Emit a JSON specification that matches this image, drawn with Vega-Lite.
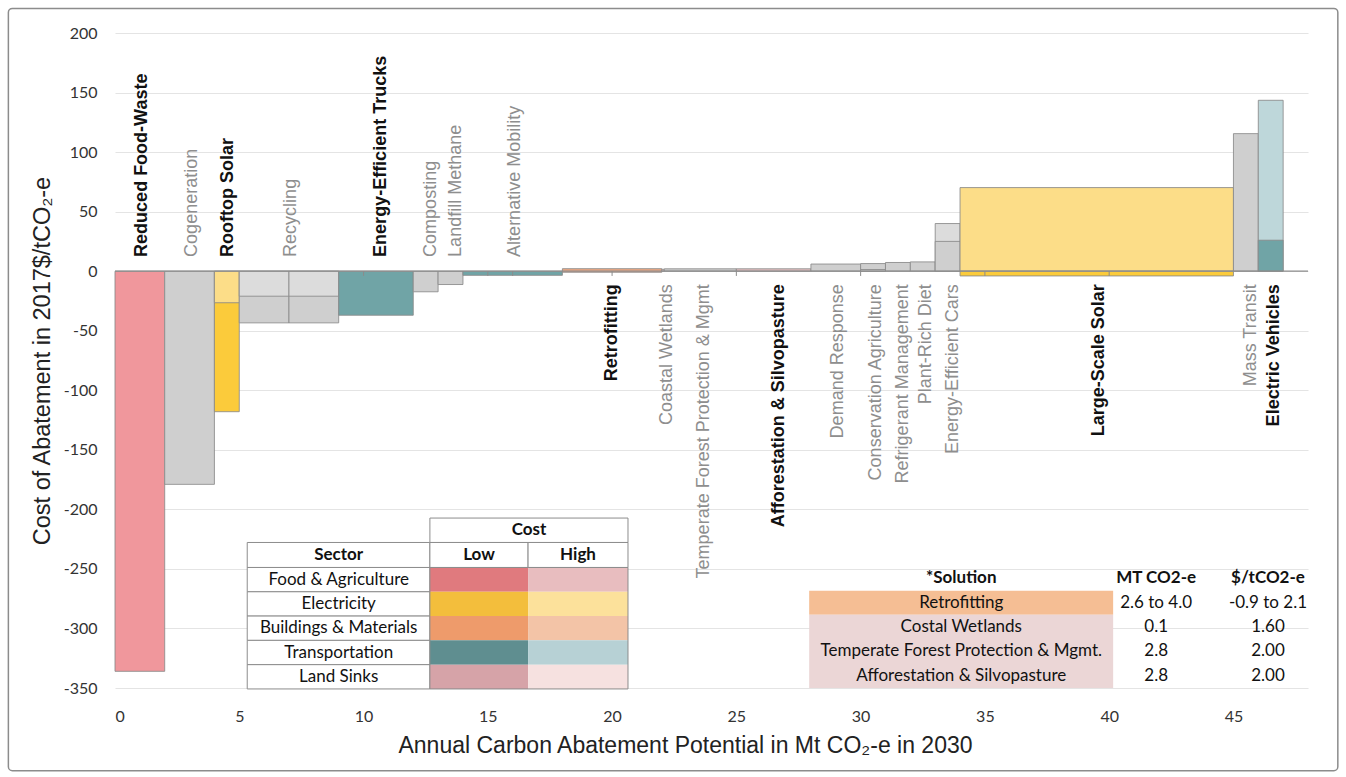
{
  "$schema": "https://vega.github.io/schema/vega-lite/v6.json",
  "width": 1193,
  "height": 655,
  "autosize": {"type": "none"},
  "padding": {"left": 115, "top": 33, "right": 38, "bottom": 89},
  "background": "white",
  "config": {"view": {"stroke": null}},
  "datasets": {
    "bars": [
      {"name": "Reduced Food-Waste", "x": 0, "x2": 2, "y": 0, "y2": -336, "c": "b_food"},
      {"name": "Cogeneration", "x": 2, "x2": 4, "y": 0, "y2": -179, "c": "b_gray"},
      {"name": "Rooftop Solar low", "x": 4, "x2": 5, "y": 0, "y2": -118, "c": "b_elec_low"},
      {"name": "Rooftop Solar high", "x": 4, "x2": 5, "y": 0, "y2": -26.5, "c": "b_elec_high"},
      {"name": "Recycling a", "x": 5, "x2": 7, "y": 0, "y2": -43.4, "c": "b_gray"},
      {"name": "Recycling b", "x": 7, "x2": 9, "y": 0, "y2": -43.4, "c": "b_gray"},
      {"name": "Recycling a high", "x": 5, "x2": 7, "y": 0, "y2": -21, "c": "b_gray_lt"},
      {"name": "Recycling b high", "x": 7, "x2": 9, "y": 0, "y2": -21, "c": "b_gray_lt"},
      {"name": "Energy-Efficient Trucks", "x": 9, "x2": 12, "y": 0, "y2": -37, "c": "b_trans_low"},
      {"name": "Composting", "x": 12, "x2": 13, "y": 0, "y2": -17.3, "c": "b_gray"},
      {"name": "Landfill Methane", "x": 13, "x2": 14, "y": 0, "y2": -11.2, "c": "b_gray"},
      {"name": "Alternative Mobility", "x": 14, "x2": 18, "y": 0, "y2": -3.5, "c": "b_trans_low"},
      {"name": "Retrofitting", "x": 18, "x2": 22, "y": -0.9, "y2": 2.1, "c": "b_bld"},
      {"name": "Coastal Wetlands", "x": 22, "x2": 22.1, "y": 0, "y2": 1.6, "c": "b_land"},
      {"name": "Temperate Forest Protection & Mgmt", "x": 22.1, "x2": 25, "y": 0, "y2": 2, "c": "b_gray"},
      {"name": "Afforestation & Silvopasture", "x": 25, "x2": 28, "y": 0, "y2": 2, "c": "b_land"},
      {"name": "Demand Response", "x": 28, "x2": 30, "y": 0, "y2": 6, "c": "b_gray"},
      {"name": "Conservation Agriculture", "x": 30, "x2": 31, "y": 0, "y2": 6.4, "c": "b_gray"},
      {"name": "Conservation Agriculture low", "x": 30, "x2": 31, "y": 0, "y2": 1.4, "c": "b_gray"},
      {"name": "Refrigerant Management", "x": 31, "x2": 32, "y": 0, "y2": 7.3, "c": "b_gray"},
      {"name": "Plant-Rich Diet", "x": 32, "x2": 33, "y": 0, "y2": 7.8, "c": "b_gray"},
      {"name": "Energy-Efficient Cars high", "x": 33, "x2": 34, "y": 0, "y2": 40, "c": "b_gray_lt"},
      {"name": "Energy-Efficient Cars low", "x": 33, "x2": 34, "y": 0, "y2": 25, "c": "b_gray"},
      {"name": "Large-Scale Solar high", "x": 34, "x2": 45, "y": 0, "y2": 70.2, "c": "b_elec_high"},
      {"name": "Large-Scale Solar low", "x": 34, "x2": 45, "y": 0, "y2": -4, "c": "b_elec_low"},
      {"name": "Mass Transit", "x": 45, "x2": 46, "y": 0, "y2": 115.5, "c": "b_gray"},
      {"name": "Electric Vehicles high", "x": 46, "x2": 47, "y": 0, "y2": 143.5, "c": "b_trans_high"},
      {"name": "Electric Vehicles low", "x": 46, "x2": 47, "y": 0, "y2": 26, "c": "b_trans_low"}
    ],
    "labels": [
      {"t": "Reduced Food-Waste", "x": 1.1, "y": 12, "side": "neg", "bold": true},
      {"t": "Cogeneration", "x": 3.1, "y": 12, "side": "neg", "bold": false},
      {"t": "Rooftop Solar", "x": 4.55, "y": 12, "side": "neg", "bold": true},
      {"t": "Recycling", "x": 7.1, "y": 12, "side": "neg", "bold": false},
      {"t": "Energy-Efficient Trucks", "x": 10.7, "y": 12, "side": "neg", "bold": true},
      {"t": "Composting", "x": 12.7, "y": 12, "side": "neg", "bold": false},
      {"t": "Landfill Methane", "x": 13.7, "y": 12, "side": "neg", "bold": false},
      {"t": "Alternative Mobility", "x": 16.1, "y": 12, "side": "neg", "bold": false},
      {"t": "Retrofitting", "x": 20.0, "y": -11, "side": "pos", "bold": true},
      {"t": "Coastal Wetlands", "x": 22.2, "y": -11, "side": "pos", "bold": false},
      {"t": "Temperate Forest Protection & Mgmt", "x": 23.7, "y": -11, "side": "pos", "bold": false},
      {"t": "Afforestation & Silvopasture", "x": 26.7, "y": -11, "side": "pos", "bold": true},
      {"t": "Demand Response", "x": 29.1, "y": -11, "side": "pos", "bold": false},
      {"t": "Conservation Agriculture", "x": 30.6, "y": -11, "side": "pos", "bold": false},
      {"t": "Refrigerant Management", "x": 31.7, "y": -11, "side": "pos", "bold": false},
      {"t": "Plant-Rich Diet", "x": 32.65, "y": -11, "side": "pos", "bold": false},
      {"t": "Energy-Efficient Cars", "x": 33.7, "y": -11, "side": "pos", "bold": false},
      {"t": "Large-Scale Solar", "x": 39.6, "y": -11, "side": "pos", "bold": true},
      {"t": "Mass Transit", "x": 45.7, "y": -11, "side": "pos", "bold": false},
      {"t": "Electric Vehicles", "x": 46.65, "y": -11, "side": "pos", "bold": true}
    ],
    "whiteCells": [
      {"x": 12.67, "x2": 20.64, "y": -207.3, "y2": -227.8},
      {"x": 5.32, "x2": 12.67, "y": -227.8, "y2": -248.8},
      {"x": 12.67, "x2": 16.62, "y": -227.8, "y2": -248.8},
      {"x": 16.62, "x2": 20.64, "y": -227.8, "y2": -248.8},
      {"x": 5.32, "x2": 12.67, "y": -248.8, "y2": -269.2},
      {"x": 5.32, "x2": 12.67, "y": -269.2, "y2": -289.6},
      {"x": 5.32, "x2": 12.67, "y": -289.6, "y2": -310.0},
      {"x": 5.32, "x2": 12.67, "y": -310.0, "y2": -330.4},
      {"x": 5.32, "x2": 12.67, "y": -330.4, "y2": -350.8}
    ],
    "colorCells": [
      {"x": 12.67, "x2": 16.62, "y": -248.8, "y2": -269.2, "c": "food_low"},
      {"x": 16.62, "x2": 20.64, "y": -248.8, "y2": -269.2, "c": "food_high"},
      {"x": 12.67, "x2": 16.62, "y": -269.2, "y2": -289.6, "c": "elec_low"},
      {"x": 16.62, "x2": 20.64, "y": -269.2, "y2": -289.6, "c": "elec_high"},
      {"x": 12.67, "x2": 16.62, "y": -289.6, "y2": -310.0, "c": "bld_low"},
      {"x": 16.62, "x2": 20.64, "y": -289.6, "y2": -310.0, "c": "bld_high"},
      {"x": 12.67, "x2": 16.62, "y": -310.0, "y2": -330.4, "c": "trans_low"},
      {"x": 16.62, "x2": 20.64, "y": -310.0, "y2": -330.4, "c": "trans_high"},
      {"x": 12.67, "x2": 16.62, "y": -330.4, "y2": -350.8, "c": "land_low"},
      {"x": 16.62, "x2": 20.64, "y": -330.4, "y2": -350.8, "c": "land_high"},
      {"x": 27.93, "x2": 40.16, "y": -268.3, "y2": -288.5, "c": "sol_orange"},
      {"x": 27.93, "x2": 40.16, "y": -288.5, "y2": -350.0, "c": "sol_pink"}
    ],
    "outline": [
      {"x": 12.67, "x2": 20.64, "y": -248.8, "y2": -350.8}
    ],
    "frame": [
      {"x": -4.29, "x2": 49.2, "y": 220.6, "y2": -419.4}
    ],
    "tableBold": [
      {"t": "Cost", "x": 16.655, "y": -217.5},
      {"t": "Sector", "x": 9.0, "y": -238.3},
      {"t": "Low", "x": 14.645, "y": -238.3},
      {"t": "High", "x": 18.63, "y": -238.3},
      {"t": "*Solution", "x": 34.05, "y": -257.4},
      {"t": "MT CO2-e", "x": 41.89, "y": -257.4},
      {"t": "$/tCO2-e", "x": 46.39, "y": -257.4}
    ],
    "tableText": [
      {"t": "Food & Agriculture", "x": 9.0, "y": -259.0},
      {"t": "Electricity", "x": 9.0, "y": -279.4},
      {"t": "Buildings & Materials", "x": 9.0, "y": -299.8},
      {"t": "Transportation", "x": 9.0, "y": -320.2},
      {"t": "Land Sinks", "x": 9.0, "y": -340.6},
      {"t": "Retrofitting", "x": 34.05, "y": -278.4},
      {"t": "Costal Wetlands", "x": 34.05, "y": -298.7},
      {"t": "Temperate Forest Protection & Mgmt.", "x": 34.05, "y": -319.2},
      {"t": "Afforestation & Silvopasture", "x": 34.05, "y": -339.7},
      {"t": "2.6 to 4.0", "x": 41.89, "y": -278.4},
      {"t": "0.1", "x": 41.89, "y": -298.7},
      {"t": "2.8", "x": 41.89, "y": -319.2},
      {"t": "2.8", "x": 41.89, "y": -339.7},
      {"t": "-0.9 to 2.1", "x": 46.39, "y": -278.4},
      {"t": "1.60", "x": 46.39, "y": -298.7},
      {"t": "2.00", "x": 46.39, "y": -319.2},
      {"t": "2.00", "x": 46.39, "y": -339.7}
    ],
    "axisLine": [
      {"x": 0, "x2": 48, "y": 0}
    ],
    "axisTicks": [
      {"x": 10, "y": 0, "y2": -4}, {"x": 15, "y": 0, "y2": -4}, {"x": 16, "y": 0, "y2": -4},
      {"x": 20, "y": 0, "y2": -4}, {"x": 25, "y": 0, "y2": -4}, {"x": 30, "y": 0, "y2": -4},
      {"x": 35, "y": 0, "y2": -4}, {"x": 40, "y": 0, "y2": -4}
    ]
  },
  "encoding": {
    "x": {
      "field": "x", "type": "quantitative",
      "scale": {"domain": [0, 48], "nice": false, "zero": false},
      "axis": {
        "values": [0, 5, 10, 15, 20, 25, 30, 35, 40, 45],
        "grid": false, "domain": false, "ticks": false,
        "labelPadding": 20, "labelFont": "Lato", "labelFontSize": 16, "labelColor": "#333333",
        "title": "Annual Carbon Abatement Potential in Mt CO₂-e in 2030",
        "titleFont": "Liberation Sans", "titleFontSize": 23, "titleFontWeight": "normal",
        "titleColor": "#222222", "titlePadding": 10, "titleX": 570
      }
    },
    "y": {
      "field": "y", "type": "quantitative",
      "scale": {"domain": [-350, 200], "nice": false, "zero": false},
      "axis": {
        "values": [-350, -300, -250, -200, -150, -100, -50, 0, 50, 100, 150, 200],
        "labelExpr": "'' + datum.value",
        "grid": true, "gridColor": "#E4E4E4", "gridWidth": 1.2,
        "domain": false, "ticks": false,
        "labelPadding": 18, "labelFont": "Lato", "labelFontSize": 16, "labelColor": "#333333",
        "title": "Cost of Abatement in 2017$/tCO₂-e",
        "titleFont": "Liberation Sans", "titleFontSize": 23.5, "titleFontWeight": "normal",
        "titleColor": "#222222", "titlePadding": 9
      }
    }
  },
  "layer": [
    {
      "data": {"name": "frame"},
      "mark": {"type": "rect", "fill": null, "fillOpacity": 0, "stroke": "#8C8C8C", "strokeWidth": 1.5, "cornerRadius": 4},
      "encoding": {"x2": {"field": "x2"}, "y2": {"field": "y2"}}
    },
    {
      "data": {"name": "bars"},
      "mark": {"type": "rect", "stroke": "#8A8A8A", "strokeWidth": 1, "strokeOpacity": 0.85},
      "encoding": {
        "x2": {"field": "x2"}, "y2": {"field": "y2"},
        "color": {
          "field": "c", "type": "nominal", "legend": null,
          "scale": {
            "domain": ["b_food", "b_gray", "b_gray_lt", "b_elec_low", "b_elec_high", "b_trans_low", "b_trans_high", "b_bld", "b_land", "food_low", "food_high", "elec_low", "elec_high", "bld_low", "bld_high", "trans_low", "trans_high", "land_low", "land_high", "sol_orange", "sol_pink"],
            "range": ["#F0979C", "#CFCFCF", "#DCDCDC", "#FBCB3B", "#FCDD88", "#70A4A6", "#BED7DA", "#EFA882", "#E4BFC0", "#E07A7E", "#E8BDBF", "#F3BE3C", "#FCE19B", "#EE9B6B", "#F3C4A7", "#5F8E90", "#B7D1D5", "#D6A3A8", "#F6E1E0", "#F5BE94", "#EBD6D6"]
          }
        }
      }
    },
    {
      "data": {"name": "axisLine"},
      "mark": {"type": "rule", "color": "#8C8C8C", "strokeWidth": 1.2},
      "encoding": {"x2": {"field": "x2"}}
    },
    {
      "data": {"name": "axisTicks"},
      "mark": {"type": "rule", "color": "#8C8C8C", "strokeWidth": 1},
      "encoding": {"y2": {"field": "y2"}}
    },
    {
      "data": {"name": "labels"},
      "transform": [{"filter": "datum.side === 'neg' && datum.bold"}],
      "mark": {"type": "text", "angle": 270, "align": "left", "baseline": "middle", "font": "Liberation Sans", "fontSize": 18, "fontWeight": "bold", "color": "#111111"},
      "encoding": {"text": {"field": "t"}}
    },
    {
      "data": {"name": "labels"},
      "transform": [{"filter": "datum.side === 'neg' && !datum.bold"}],
      "mark": {"type": "text", "angle": 270, "align": "left", "baseline": "middle", "font": "Liberation Sans", "fontSize": 18, "color": "#8E8E8E"},
      "encoding": {"text": {"field": "t"}}
    },
    {
      "data": {"name": "labels"},
      "transform": [{"filter": "datum.side === 'pos' && datum.bold"}],
      "mark": {"type": "text", "angle": 270, "align": "right", "baseline": "middle", "font": "Liberation Sans", "fontSize": 18, "fontWeight": "bold", "color": "#111111"},
      "encoding": {"text": {"field": "t"}}
    },
    {
      "data": {"name": "labels"},
      "transform": [{"filter": "datum.side === 'pos' && !datum.bold"}],
      "mark": {"type": "text", "angle": 270, "align": "right", "baseline": "middle", "font": "Liberation Sans", "fontSize": 18, "color": "#8E8E8E"},
      "encoding": {"text": {"field": "t"}}
    },
    {
      "data": {"name": "whiteCells"},
      "mark": {"type": "rect", "fill": "#FFFFFF", "stroke": "#8C8C8C", "strokeWidth": 1},
      "encoding": {"x2": {"field": "x2"}, "y2": {"field": "y2"}}
    },
    {
      "data": {"name": "colorCells"},
      "mark": {"type": "rect", "strokeWidth": 0},
      "encoding": {
        "x2": {"field": "x2"}, "y2": {"field": "y2"},
        "color": {
          "field": "c", "type": "nominal", "legend": null,
          "scale": {
            "domain": ["b_food", "b_gray", "b_gray_lt", "b_elec_low", "b_elec_high", "b_trans_low", "b_trans_high", "b_bld", "b_land", "food_low", "food_high", "elec_low", "elec_high", "bld_low", "bld_high", "trans_low", "trans_high", "land_low", "land_high", "sol_orange", "sol_pink"],
            "range": ["#F0979C", "#CFCFCF", "#DCDCDC", "#FBCB3B", "#FCDD88", "#70A4A6", "#BED7DA", "#EFA882", "#E4BFC0", "#E07A7E", "#E8BDBF", "#F3BE3C", "#FCE19B", "#EE9B6B", "#F3C4A7", "#5F8E90", "#B7D1D5", "#D6A3A8", "#F6E1E0", "#F5BE94", "#EBD6D6"]
          }
        }
      }
    },
    {
      "data": {"name": "outline"},
      "mark": {"type": "rect", "fill": null, "fillOpacity": 0, "stroke": "#8C8C8C", "strokeWidth": 1},
      "encoding": {"x2": {"field": "x2"}, "y2": {"field": "y2"}}
    },
    {
      "data": {"name": "tableBold"},
      "mark": {"type": "text", "align": "center", "baseline": "middle", "font": "Lato", "fontSize": 17, "fontWeight": "bold", "color": "#111111"},
      "encoding": {"text": {"field": "t"}}
    },
    {
      "data": {"name": "tableText"},
      "mark": {"type": "text", "align": "center", "baseline": "middle", "font": "Lato", "fontSize": 17, "color": "#111111"},
      "encoding": {"text": {"field": "t"}}
    }
  ]
}
